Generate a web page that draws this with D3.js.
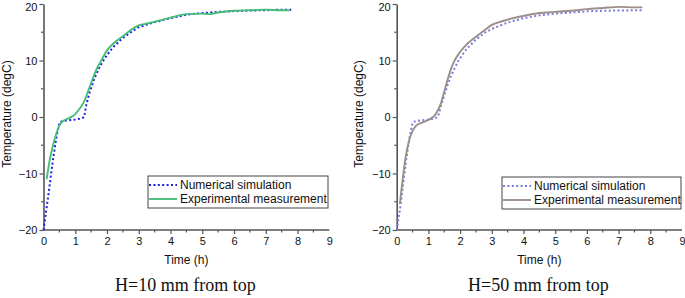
<!DOCTYPE html>
<html>
<head>
<meta charset="utf-8">
<script src="https://cdn.jsdelivr.net/npm/d3@7"></script>
<style>
  body { margin: 0; background: #fff; }
  svg { display: block; }
</style>
</head>
<body>
<svg id="chart" width="685" height="298"></svg>
<script>
// x ticks (h) and y ticks (degC)
const timeTicks = [0, 1, 2, 3, 4, 5, 6, 7, 8, 9];
const tempTicks = [-20, -10, 0, 10, 20];
const seriesNames = ['Numerical simulation', 'Experimental measurement'];
const captions = ['H=10 mm from top', 'H=50 mm from top'];

// [time (h), temperature (degC)]
const sim10 = [[0, -20], [0.1, -16], [0.2, -11.8], [0.3, -7.5], [0.4, -3.8], [0.5, -1.0], [0.6, -0.7],
  [0.8, -0.6], [1.0, -0.45], [1.2, -0.25], [1.28, 0], [1.35, 2.2], [1.45, 4.3], [1.6, 6.8], [1.8, 9.2],
  [2.0, 11], [2.2, 12.4], [2.5, 14], [2.8, 15.2], [3.0, 15.9], [3.5, 16.8], [4.0, 17.5], [4.5, 18.1],
  [5.0, 18.4], [5.5, 18.6], [6.0, 18.75], [6.5, 18.85], [7.0, 18.9], [7.5, 19.0], [7.8, 19.0]];
const exp10 = [[0.1, -11], [0.2, -7.5], [0.3, -5], [0.4, -3], [0.5, -1.5], [0.6, -0.8], [0.8, -0.2],
  [1.0, 0.5], [1.1, 1.2], [1.2, 2], [1.3, 3], [1.4, 4.5], [1.5, 6], [1.6, 7.5], [1.7, 8.8], [1.8, 9.8],
  [2.0, 11.8], [2.2, 13], [2.5, 14.3], [2.8, 15.6], [3.0, 16.2], [3.3, 16.6], [3.6, 17], [4.0, 17.6],
  [4.5, 18.2], [5.0, 18.3], [5.2, 18.2], [5.5, 18.5], [6.0, 18.8], [6.5, 18.9], [7.0, 19.0], [7.5, 18.9],
  [7.75, 18.9]];
const sim50 = [[0, -20], [0.1, -16.5], [0.2, -12], [0.3, -7.6], [0.4, -3.8], [0.5, -1.0], [0.6, -0.7],
  [0.8, -0.6], [1.0, -0.45], [1.2, -0.25], [1.3, 0], [1.4, 2], [1.5, 3.8], [1.6, 5.6], [1.7, 7.1],
  [1.8, 8.3], [1.95, 10], [2.2, 12], [2.5, 13.7], [2.8, 15], [3.0, 15.6], [3.5, 16.7], [4.0, 17.5],
  [4.5, 18.0], [5.0, 18.3], [5.5, 18.5], [6.0, 18.7], [6.5, 18.8], [7.0, 18.85], [7.75, 18.9]];
const exp50 = [[0.1, -15.4], [0.2, -10.5], [0.3, -6.5], [0.4, -4], [0.5, -2.5], [0.6, -1.6], [0.8, -1],
  [1.0, -0.5], [1.1, -0.2], [1.2, 0.3], [1.3, 1.2], [1.4, 2.5], [1.5, 4.5], [1.6, 6.5], [1.7, 8.3],
  [1.8, 9.7], [2.0, 11.5], [2.2, 12.8], [2.5, 14.2], [2.8, 15.5], [3.0, 16.3], [3.3, 16.9], [3.6, 17.4],
  [4.0, 17.9], [4.5, 18.4], [5.0, 18.6], [5.5, 18.8], [6.0, 19.1], [6.5, 19.3], [7.0, 19.5], [7.5, 19.4],
  [7.75, 19.4]];

const panels = [
  { sim: sim10, exp: exp10, caption: captions[0], x0: 43.5, x1: 329.3, simColor: '#1f1fe6', expColor: '#45bf78',
    legend: { x: 148, y: 176, w: 180, h: 32 }, yTitleX: 7 },
  { sim: sim50, exp: exp50, caption: captions[1], x0: 396.7, x1: 682, simColor: '#7a7ae0', expColor: '#9c8e89',
    legend: { x: 502, y: 177, w: 179, h: 32 }, yTitleX: 359 },
];

const svg = d3.select('#chart');
const axisColor = '#555';
const font = 'Liberation Sans, Arial, sans-serif';

panels.forEach((p) => {
  const x = d3.scaleLinear().domain([0, 9]).range([p.x0, p.x1]);
  const y = d3.scaleLinear().domain([-20, 20]).range([230, 4]);
  const g = svg.append('g');

  // x axis: major ticks + half-hour minor ticks
  const xAxis = g.append('g').attr('transform', 'translate(0,230)')
    .call(d3.axisBottom(x).tickValues(timeTicks).tickSize(4).tickSizeOuter(0).tickPadding(3));
  xAxis.selectAll('.tick').filter((d) => d === 0 || d === 9).select('line').remove();
  xAxis.selectAll('.minor').data(d3.range(0.5, 9, 1)).join('line')
    .attr('x1', (d) => x(d)).attr('x2', (d) => x(d)).attr('y1', 0).attr('y2', 2.5);
  xAxis.select('.domain').attr('d', `M${p.x0},0H${p.x1}`);

  // y axis
  const yAxis = g.append('g').attr('transform', `translate(${p.x0},0)`)
    .call(d3.axisLeft(y).tickValues(tempTicks).tickSize(4).tickSizeOuter(0).tickPadding(2));
  yAxis.selectAll('.minor').data([-15, -5, 5, 15]).join('line')
    .attr('x1', 0).attr('x2', -2.5).attr('y1', (d) => y(d)).attr('y2', (d) => y(d));
  // keep the top label inside the picture
  yAxis.selectAll('.tick').filter((d) => d === 20).select('text').attr('dy', '0.55em');

  [xAxis, yAxis].forEach((a) => {
    a.selectAll('.domain').attr('stroke', axisColor).attr('stroke-width', 1.6);
    a.selectAll('line').attr('stroke', axisColor).attr('stroke-width', 1.2);
    a.selectAll('text').attr('fill', '#111').style('font', `11px ${font}`);
  });

  // titles
  g.append('text').attr('x', (p.x0 + p.x1) / 2).attr('y', 264)
    .attr('text-anchor', 'middle').style('font', `12px ${font}`).attr('fill', '#111')
    .text('Time (h)');
  g.append('text').attr('transform', `translate(${p.yTitleX},114) rotate(-90)`)
    .attr('text-anchor', 'middle').attr('dy', '0.35em').style('font', `12px ${font}`).attr('fill', '#111')
    .text('Temperature (degC)');
  g.append('text').attr('x', (p.x0 + p.x1) / 2 - 1).attr('y', 291)
    .attr('text-anchor', 'middle').style('font', '18px "Liberation Serif", "Times New Roman", serif')
    .attr('fill', '#111').text(p.caption);

  // series
  g.append('path').datum(p.sim)
    .attr('fill', 'none').attr('stroke', p.simColor).attr('stroke-width', 2)
    .attr('stroke-dasharray', '2,2.4')
    .attr('d', d3.line().x((d) => x(d[0])).y((d) => y(d[1])));
  g.append('path').datum(p.exp)
    .attr('fill', 'none').attr('stroke', p.expColor).attr('stroke-width', 1.9)
    .attr('d', d3.line().curve(d3.curveMonotoneX).x((d) => x(d[0])).y((d) => y(d[1])));

  // legend
  const L = p.legend;
  const lg = g.append('g').attr('transform', `translate(${L.x},${L.y})`);
  lg.append('rect').attr('width', L.w).attr('height', L.h)
    .attr('fill', '#fff').attr('stroke', '#444').attr('stroke-width', 1);
  const rows = [
    { name: seriesNames[0], color: p.simColor, dash: '2,2.4' },
    { name: seriesNames[1], color: p.expColor, dash: null },
  ];
  rows.forEach((r, i) => {
    const cy = 9 + i * 14;
    lg.append('line').attr('x1', 1).attr('x2', 29).attr('y1', cy).attr('y2', cy)
      .attr('stroke', r.color).attr('stroke-width', 1.9).attr('stroke-dasharray', r.dash);
    lg.append('text').attr('x', 32).attr('y', cy).attr('dy', '0.35em')
      .style('font', `12px ${font}`).attr('fill', '#111').text(r.name);
  });
});
</script>
</body>
</html>
